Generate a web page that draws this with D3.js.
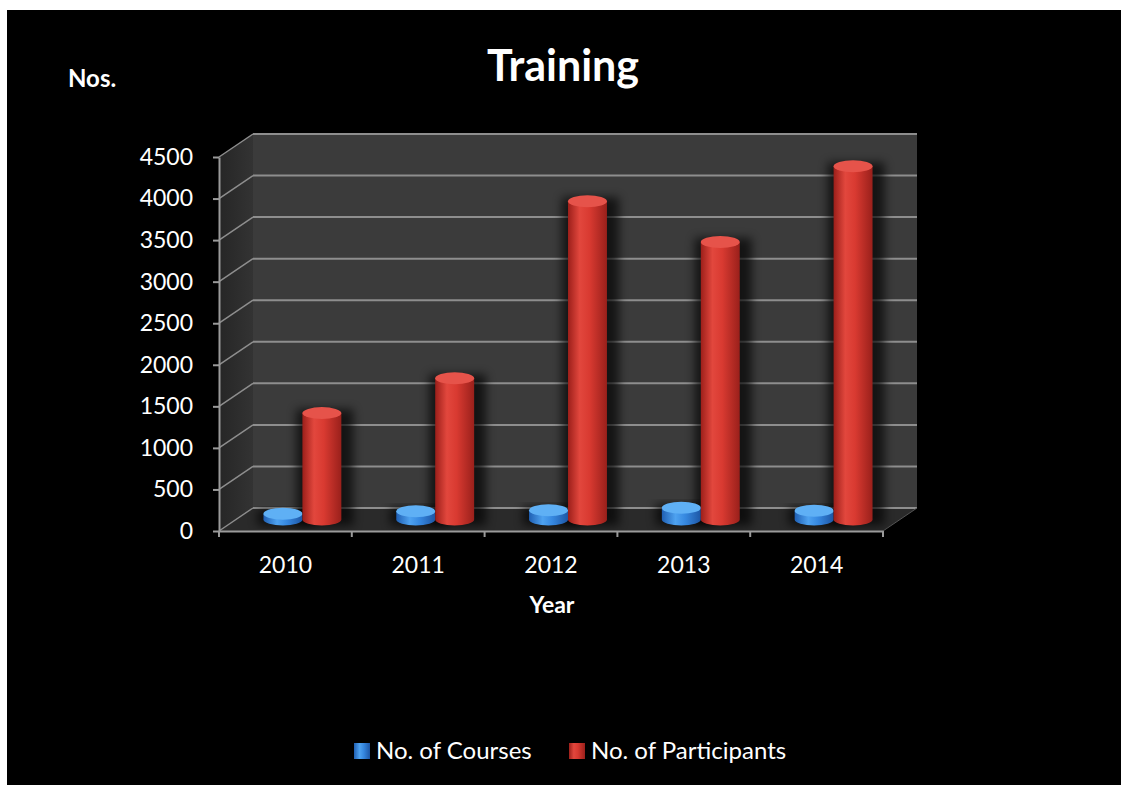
<!DOCTYPE html>
<html>
<head>
<meta charset="utf-8">
<script src="https://cdn.jsdelivr.net/npm/d3@7"></script>
<style>
  html, body { margin: 0; padding: 0; background: #fff; overflow: hidden; }
  svg { display: block; }
  text { font-family: Lato, "Open Sans", sans-serif; fill: #fff; }
</style>
</head>
<body>
<div id="chart"></div>
<script>
// data
var years = ["2010", "2011", "2012", "2013", "2014"];
var courses = [70, 100, 110, 140, 105];
var participants = [1280, 1700, 3830, 3340, 4250];
var seriesNames = ["No. of Courses", "No. of Participants"];
var yTicks = [0, 500, 1000, 1500, 2000, 2500, 3000, 3500, 4000, 4500];

var width = 1121, height = 785;
var DX = 34, DY = -23; // depth of the 3d box

var svg = d3.select("#chart").append("svg")
    .attr("width", width)
    .attr("height", height);

// black chart area (white strip on top and left)
svg.append("rect")
    .attr("x", 7).attr("y", 10)
    .attr("width", width - 7).attr("height", height - 10)
    .attr("fill", "#000");

var defs = svg.append("defs");

function cylGrad(id, stops) {
  var g = defs.append("linearGradient").attr("id", id)
      .attr("x1", "0%").attr("x2", "100%").attr("y1", "0%").attr("y2", "0%");
  stops.forEach(function(s){
    g.append("stop").attr("offset", s[0]).attr("stop-color", s[1]);
  });
}
cylGrad("redBody", [["0%", "#9c1f1a"], ["30%", "#e2473d"], ["55%", "#d93a31"], ["100%", "#9a201b"]]);
cylGrad("blueBody", [["0%", "#1f5fb3"], ["35%", "#4ea2f0"], ["60%", "#3688e0"], ["100%", "#1d56a5"]]);
cylGrad("sideWall", [["0%", "#262626"], ["100%", "#333333"]]);

var blur = defs.append("filter").attr("id", "shadow")
    .attr("x", "-50%").attr("y", "-20%").attr("width", "200%").attr("height", "140%");
blur.append("feGaussianBlur").attr("stdDeviation", 5);

// scales
var x = d3.scaleBand().domain(years).range([219, 883]).paddingInner(0).paddingOuter(0);
var xs = d3.scaleBand().domain(seriesNames).range([0, x.bandwidth()]).paddingInner(0).paddingOuter(0.705);
var y = d3.scaleLinear().domain([0, 4500]).range([531, 157]);

var x0 = x.range()[0], x1 = x.range()[1];
var yTop = y(4500), yBot = y(0);

// back wall
svg.append("rect")
    .attr("x", x0 + DX).attr("y", yTop + DY)
    .attr("width", x1 - x0).attr("height", yBot - yTop)
    .attr("fill", "#3b3b3b");

// side wall
svg.append("path")
    .attr("d", "M" + x0 + "," + yBot + "L" + x0 + "," + yTop +
               "L" + (x0 + DX) + "," + (yTop + DY) + "L" + (x0 + DX) + "," + (yBot + DY) + "Z")
    .attr("fill", "url(#sideWall)");

// floor
svg.append("path")
    .attr("d", "M" + x0 + "," + yBot + "L" + x1 + "," + yBot +
               "L" + (x1 + DX) + "," + (yBot + DY) + "L" + (x0 + DX) + "," + (yBot + DY) + "Z")
    .attr("fill", "#2a2a2a");

// gridlines: back wall + side wall
var grid = svg.append("g").attr("stroke", "#8e8e8e").attr("stroke-width", 2).attr("fill", "none");
grid.selectAll(".gb").data(yTicks).enter().append("line")
    .attr("x1", x0 + DX).attr("x2", x1 + DX)
    .attr("y1", function(d){ return y(d) + DY; })
    .attr("y2", function(d){ return y(d) + DY; });
grid.selectAll(".gs").data(yTicks).enter().append("line")
    .attr("x1", x0).attr("x2", x0 + DX)
    .attr("y1", function(d){ return y(d); })
    .attr("y2", function(d){ return y(d) + DY; })
    .attr("stroke-width", 1.5);
// right floor edge
svg.append("line")
    .attr("x1", x1).attr("y1", yBot).attr("x2", x1 + DX).attr("y2", yBot + DY)
    .attr("stroke", "#555").attr("stroke-width", 1);

// bars as cylinders, standing at mid depth
var rows = years.map(function(yr, i){
  return [{year: yr, s: seriesNames[0], v: courses[i]},
          {year: yr, s: seriesNames[1], v: participants[i]}];
});
var bars = [].concat.apply([], rows);
var mdx = DX / 2, mdy = DY / 2;
var rx = xs.bandwidth() / 2, ry = 6;

function cx(d){ return x(d.year) + xs(d.s) + rx + mdx; }
function yv(v){ return y(v) + mdy; }

var barG = svg.append("g");
// soft shadows behind the bars
barG.selectAll(".shadow").data(bars).enter().append("rect")
    .attr("x", function(d){ return cx(d) - rx - 6; })
    .attr("y", function(d){ return yv(d.v) - 4; })
    .attr("width", rx * 2 + 18)
    .attr("height", function(d){ return yv(0) - yv(d.v) + 10; })
    .attr("fill", "#000").attr("opacity", 0.65)
    .attr("filter", "url(#shadow)");

var cyl = barG.selectAll(".cyl").data(bars).enter().append("g");
cyl.append("path")
    .attr("d", function(d){
      var c = cx(d), t = yv(d.v), b = yv(0);
      return "M" + (c - rx) + "," + t + "L" + (c - rx) + "," + b +
             "A" + rx + "," + ry + " 0 0 0 " + (c + rx) + "," + b +
             "L" + (c + rx) + "," + t + "Z";
    })
    .attr("fill", function(d){ return d.s === seriesNames[0] ? "url(#blueBody)" : "url(#redBody)"; });
cyl.append("ellipse")
    .attr("cx", cx)
    .attr("cy", function(d){ return yv(d.v); })
    .attr("rx", rx).attr("ry", ry)
    .attr("fill", function(d){ return d.s === seriesNames[0] ? "#5fb0f5" : "#e6534a"; });

// y axis
var yAxis = svg.append("g")
    .attr("transform", "translate(" + x0 + ",0)")
    .call(d3.axisLeft(y).tickValues(yTicks).tickFormat(d3.format("d"))
      .tickSizeInner(6).tickSizeOuter(0).tickPadding(20));
yAxis.select(".domain").attr("stroke", "#9a9a9a").attr("stroke-width", 2);
yAxis.selectAll(".tick line").attr("stroke", "#9a9a9a").attr("stroke-width", 2);
yAxis.selectAll(".tick text").attr("fill", "#fff").style("font-size", "23px")
    .style("font-family", "Lato, sans-serif");

// x axis
var xAxis = svg.append("g")
    .attr("transform", "translate(0," + yBot + ")")
    .call(d3.axisBottom(x).tickSize(0).tickPadding(26));
xAxis.select(".domain").attr("stroke", "#9a9a9a").attr("stroke-width", 2);
xAxis.selectAll(".tick text").attr("fill", "#fff").style("font-size", "23px")
    .style("font-family", "Lato, sans-serif");
var bounds = years.map(function(yr){ return x(yr); }).concat([x1]);
xAxis.selectAll(".bt").data(bounds).enter().append("line")
    .attr("x1", function(d){ return d; }).attr("x2", function(d){ return d; })
    .attr("y1", 0).attr("y2", 6)
    .attr("stroke", "#9a9a9a").attr("stroke-width", 2);

// titles
svg.append("text")
    .attr("x", 563).attr("y", 81)
    .attr("text-anchor", "middle")
    .style("font-size", "43px").style("font-weight", "bold")
    .text("Training");
svg.append("text")
    .attr("x", 68).attr("y", 87)
    .style("font-size", "24px").style("font-weight", "bold")
    .text("Nos.");
svg.append("text")
    .attr("x", 552).attr("y", 613)
    .attr("text-anchor", "middle")
    .style("font-size", "23px").style("font-weight", "bold")
    .text("Year");

// legend
var legendX = [354, 569];
var legendFill = ["url(#blueBody)", "url(#redBody)"];
var legend = svg.append("g").selectAll("g").data(seriesNames).enter().append("g")
    .attr("transform", function(d, i){ return "translate(" + legendX[i] + ",743)"; });
legend.append("rect")
    .attr("width", 16).attr("height", 16)
    .attr("fill", function(d, i){ return legendFill[i]; });
legend.append("text")
    .attr("x", 22).attr("y", 16)
    .style("font-size", "24px")
    .text(function(d){ return d; });
</script>
</body>
</html>
